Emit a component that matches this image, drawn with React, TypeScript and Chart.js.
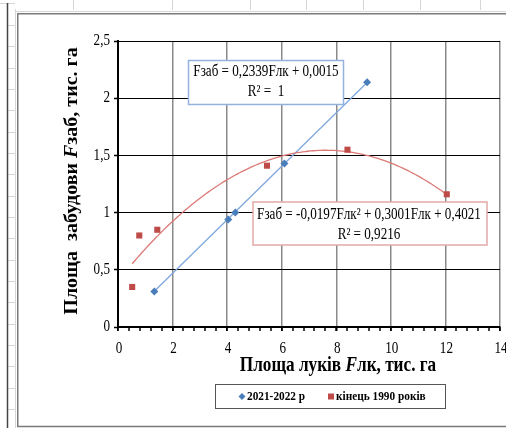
import React, { useEffect, useRef } from 'react';
import { Chart, registerables } from 'chart.js';

Chart.register(...registerables);

// ---------- data ----------
const blueX = [1.33, 4.04, 4.3, 6.1, 9.13];
const blueY = [0.31, 0.94, 1.0, 1.43, 2.14];
const redX = [0.52, 0.78, 1.44, 5.46, 8.41, 12.05];
const redY = [0.35, 0.8, 0.85, 1.41, 1.55, 1.16];
const seriesNames = ['2021-2022 р', 'кінець 1990 років'];
const linearCoef = [0.2339, 0.0015]; // slope, intercept
const quadCoef = [-0.0197, 0.3001, 0.4021]; // a, b, c
const blueEquation = ['Fзаб = 0,2339Fлк + 0,0015', 'R² =  1'];
const redEquation = ['Fзаб = -0,0197Fлк² + 0,3001Fлк + 0,4021', 'R² = 0,9216'];
const xTitleParts: [string, boolean][] = [['Площа луків ', false], ['F', true], ['лк, тис. га', false]];
const yTitleParts: [string, boolean][] = [['Площа  забудови ', false], ['F', true], ['заб, тис. га', false]];
const xRange = [0, 14, 2];
const yRange = [0, 2.5, 0.5];
const xMinorStep = 0.4;

// ---------- styles ----------
const BLUE = '#4A7EBB';
const BLUE_LINE = '#7FA8DD';
const RED = '#BE4B48';
const RED_LINE = '#DB7A77';
const SERIF = "'Liberation Serif', 'Times New Roman', serif";
const SX = 0.82; // horizontal glyph compression seen in the reference

function line(ctx: CanvasRenderingContext2D, x1: number, y1: number, x2: number, y2: number) {
  ctx.beginPath();
  ctx.moveTo(x1, y1);
  ctx.lineTo(x2, y2);
  ctx.stroke();
}

function drawParts(
  ctx: CanvasRenderingContext2D,
  parts: [string, boolean][],
  cx: number,
  cy: number,
  size: number,
  rot: number,
  sx: number,
  sy: number
) {
  ctx.save();
  ctx.translate(cx, cy);
  ctx.rotate(rot);
  ctx.scale(sx, sy);
  const fonts = parts.map(([, it]) => `${it ? 'italic ' : ''}bold ${size}px ${SERIF}`);
  const widths = parts.map(([t], i) => {
    ctx.font = fonts[i];
    return ctx.measureText(t).width;
  });
  const total = widths.reduce((a, b) => a + b, 0);
  let x = -total / 2;
  ctx.textBaseline = 'middle';
  ctx.textAlign = 'left';
  ctx.fillStyle = '#000';
  parts.forEach(([t], i) => {
    ctx.font = fonts[i];
    ctx.fillText(t, x, 0);
    x += widths[i];
  });
  ctx.restore();
}

function drawText(
  ctx: CanvasRenderingContext2D,
  text: string,
  x: number,
  y: number,
  font: string,
  align: CanvasTextAlign,
  sx: number
) {
  ctx.save();
  ctx.translate(x, y);
  ctx.scale(sx, 1);
  ctx.font = font;
  ctx.textAlign = align;
  ctx.textBaseline = 'middle';
  ctx.fillStyle = '#000';
  ctx.fillText(text, 0, 0);
  ctx.restore();
}

const framePlugin = {
  id: 'frame',
  beforeDraw(chart: any) {
    const ctx: CanvasRenderingContext2D = chart.ctx;
    ctx.save();
    ctx.fillStyle = '#fff';
    ctx.fillRect(0, 0, chart.width, chart.height);
    ctx.strokeStyle = '#d6d6d6';
    ctx.lineWidth = 1;
    for (const x of [73, 172, 250, 306, 363, 420, 480]) line(ctx, x + 0.5, 0, x + 0.5, 10);
    line(ctx, 0, 3.5, 15, 3.5);
    line(ctx, 15.5, 9, 15.5, 428);
    line(ctx, 15, 11.5, 506, 11.5);
    for (let k = 0; k < 19; k++) {
      const y = Math.round(25 + k * 21.33) + 0.5;
      line(ctx, 8, y, 15, y);
    }
    ctx.strokeStyle = '#444';
    ctx.lineWidth = 1.5;
    line(ctx, 7.5, 3, 7.5, 428);
    ctx.strokeStyle = '#7a7a7a';
    ctx.lineWidth = 1.5;
    line(ctx, 17, 13.75, 506, 13.75);
    line(ctx, 17.75, 13, 17.75, 427);
    line(ctx, 17, 426.5, 506, 426.5);
    ctx.restore();
  },
};

const trendPlugin = {
  id: 'trend',
  beforeDatasetsDraw(chart: any) {
    const ctx: CanvasRenderingContext2D = chart.ctx;
    const xs = chart.scales.x;
    const ys = chart.scales.y;
    ctx.save();
    // linear trend
    const l0 = Math.min(...blueX);
    const l1 = Math.max(...blueX);
    ctx.strokeStyle = BLUE_LINE;
    ctx.lineWidth = 1.3;
    line(
      ctx,
      xs.getPixelForValue(l0),
      ys.getPixelForValue(linearCoef[0] * l0 + linearCoef[1]),
      xs.getPixelForValue(l1),
      ys.getPixelForValue(linearCoef[0] * l1 + linearCoef[1])
    );
    // polynomial trend
    const q0 = Math.min(...redX);
    const q1 = Math.max(...redX);
    ctx.strokeStyle = RED_LINE;
    ctx.lineWidth = 1.3;
    ctx.beginPath();
    const n = 120;
    for (let i = 0; i <= n; i++) {
      const v = q0 + ((q1 - q0) * i) / n;
      const w = quadCoef[0] * v * v + quadCoef[1] * v + quadCoef[2];
      const px = xs.getPixelForValue(v);
      const py = ys.getPixelForValue(w);
      if (i === 0) ctx.moveTo(px, py);
      else ctx.lineTo(px, py);
    }
    ctx.stroke();
    // minor ticks on x axis
    ctx.strokeStyle = '#000';
    ctx.lineWidth = 1.5;
    const yb = chart.chartArea.bottom;
    const count = Math.round((xRange[1] - xRange[0]) / xMinorStep);
    for (let i = 0; i <= count; i++) {
      const px = Math.round(xs.getPixelForValue(xRange[0] + i * xMinorStep));
      line(ctx, px, yb, px, yb + 4);
    }
    ctx.restore();
  },
};

const annotPlugin = {
  id: 'annot',
  afterDatasetsDraw(chart: any) {
    const ctx: CanvasRenderingContext2D = chart.ctx;
    ctx.save();
    const eqFont = `16px ${SERIF}`;
    // blue equation box
    ctx.fillStyle = '#fff';
    ctx.strokeStyle = '#93B3DE';
    ctx.lineWidth = 1.5;
    ctx.fillRect(188.5, 60.5, 155, 44);
    ctx.strokeRect(188.5, 60.5, 155, 44);
    drawText(ctx, blueEquation[0], 266, 72, eqFont, 'center', SX);
    drawText(ctx, blueEquation[1], 266, 92, eqFont, 'center', SX);
    // red equation box
    ctx.fillStyle = '#fff';
    ctx.strokeStyle = '#E3A9A8';
    ctx.fillRect(253, 202, 234, 43);
    ctx.strokeRect(253, 202, 234, 43);
    drawText(ctx, redEquation[0], 369, 215, eqFont, 'center', SX);
    drawText(ctx, redEquation[1], 369, 235, eqFont, 'center', SX);
    ctx.restore();
  },
  afterDraw(chart: any) {
    const ctx: CanvasRenderingContext2D = chart.ctx;
    const xs = chart.scales.x;
    const ys = chart.scales.y;
    ctx.save();
    // tick labels, positioned by the chart's own scales
    const tickFont = `16px ${SERIF}`;
    xs.ticks.forEach((t: any) => {
      drawText(ctx, String(t.value), xs.getPixelForValue(t.value) + 1, 349, tickFont, 'center', SX);
    });
    ys.ticks.forEach((t: any) => {
      drawText(ctx, String(t.value).replace('.', ','), 110, ys.getPixelForValue(t.value), tickFont, 'right', SX);
    });
    // axis titles
    drawParts(ctx, xTitleParts, 338, 366, 21, 0, SX, 1);
    drawParts(ctx, yTitleParts, 72, 181, 20, -Math.PI / 2, 1, 0.9);
    // legend
    ctx.strokeStyle = '#555';
    ctx.lineWidth = 1;
    ctx.strokeRect(215.5, 384.5, 230, 24);
    const ly = 396.5;
    ctx.fillStyle = BLUE;
    ctx.beginPath();
    ctx.moveTo(242, ly - 3.5);
    ctx.lineTo(245.5, ly);
    ctx.lineTo(242, ly + 3.5);
    ctx.lineTo(238.5, ly);
    ctx.closePath();
    ctx.fill();
    ctx.fillStyle = RED;
    ctx.fillRect(328, ly - 3, 6, 6);
    const legFont = `bold 13px ${SERIF}`;
    drawText(ctx, seriesNames[0], 247, ly, legFont, 'left', 0.87);
    drawText(ctx, seriesNames[1], 336, ly, legFont, 'left', 0.87);
    ctx.restore();
  },
};

export default function App() {
  const ref = useRef<HTMLCanvasElement | null>(null);
  useEffect(() => {
    if (!ref.current) return;
    const chart = new Chart(ref.current, {
      type: 'scatter',
      data: {
        datasets: [
          {
            label: seriesNames[0],
            data: blueX.map((x, i) => ({ x, y: blueY[i] })),
            pointStyle: 'rectRot',
            pointRadius: 4,
            backgroundColor: BLUE,
            borderColor: BLUE,
            borderWidth: 0,
            showLine: false,
          },
          {
            label: seriesNames[1],
            data: redX.map((x, i) => ({ x, y: redY[i] })),
            pointStyle: 'rect',
            pointRadius: 4.3,
            backgroundColor: RED,
            borderColor: RED,
            borderWidth: 0,
            showLine: false,
          },
        ],
      },
      options: {
        responsive: false,
        animation: false,
        events: [],
        layout: { padding: { top: 41, right: 6, left: 0, bottom: 0 } },
        plugins: { legend: { display: false }, tooltip: { enabled: false } },
        scales: {
          x: {
            type: 'linear',
            min: xRange[0],
            max: xRange[1],
            afterFit: (axis: any) => {
              axis.height = 101;
              axis.paddingLeft = 0;
              axis.paddingRight = 0;
            },
            ticks: { stepSize: xRange[2], display: false, autoSkip: false, maxRotation: 0 },
            grid: { color: '#8a8a8a', lineWidth: 1.5, tickLength: 4, tickColor: '#000', tickWidth: 1.5 },
            border: { color: '#000', width: 2 },
          },
          y: {
            type: 'linear',
            min: yRange[0],
            max: yRange[1],
            afterFit: (axis: any) => {
              axis.width = 118;
              axis.paddingTop = 0;
              axis.paddingBottom = 0;
            },
            ticks: { stepSize: yRange[2], display: false },
            grid: { color: '#000', lineWidth: 1, tickLength: 4, tickColor: '#000', tickWidth: 1.5 },
            border: { color: '#000', width: 2 },
          },
        },
      },
      plugins: [framePlugin, trendPlugin, annotPlugin],
    });
    return () => chart.destroy();
  }, []);
  return (
    <div style={{ position: 'absolute', left: 0, top: 0, width: 506, height: 428 }}>
      <canvas ref={ref} width={506} height={428} style={{ width: 506, height: 428, display: 'block' }} />
    </div>
  );
}
